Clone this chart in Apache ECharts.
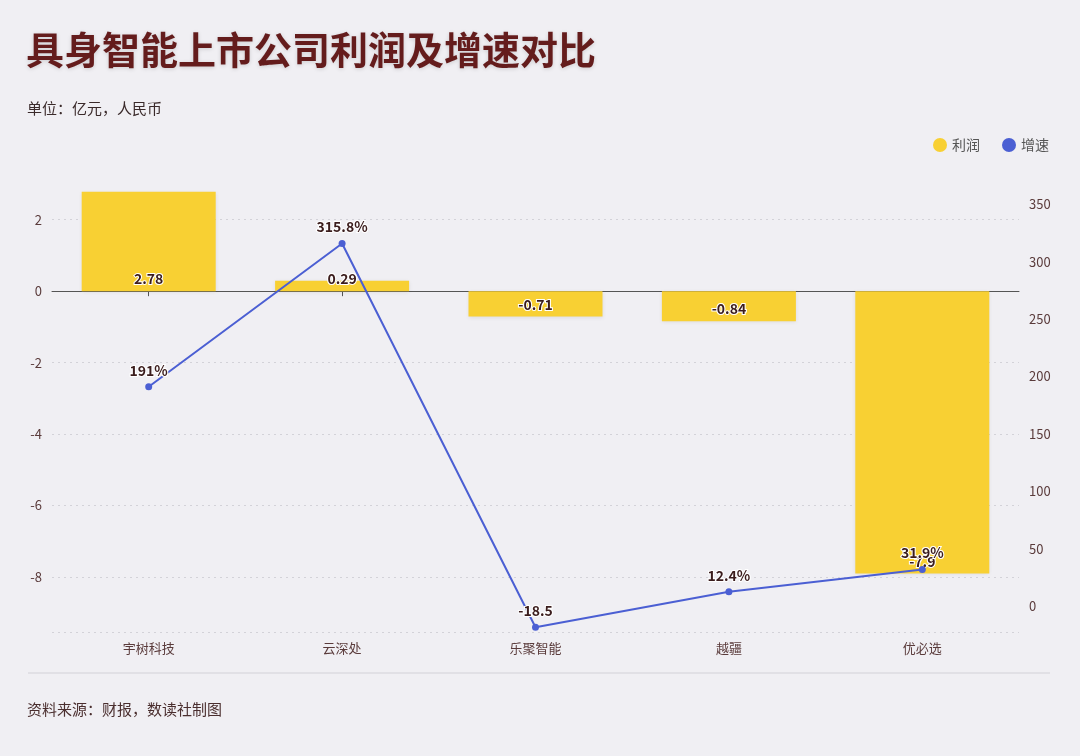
<!DOCTYPE html>
<html>
<head>
<meta charset="utf-8">
<style>
html,body{margin:0;padding:0;background:#f0eff3;}
#main{width:1080px;height:756px;}
</style>
<script src="https://cdn.jsdelivr.net/npm/echarts@6/dist/echarts.min.js"></script>
</head>
<body>
<div id="main"></div>
<script>
// 公司
var companies = ['宇树科技', '云深处', '乐聚智能', '越疆', '优必选'];
// 利润（亿元）
var profit = [2.78, 0.29, -0.71, -0.84, -7.9];
// 增速（%）
var growth = [191, 315.8, -18.5, 12.4, 31.9];

var fontCN = '"Noto Sans CJK SC", "Noto Sans", sans-serif';
var labelDark = '#3b1d1d';
var axisText = '#5a3b3b';

var chart = echarts.init(document.getElementById('main'));
chart.setOption({
  backgroundColor: '#f0eff3',
  textStyle: { fontFamily: fontCN },
  title: [{
    text: '具身智能上市公司利润及增速对比',
    left: 26, top: 31, padding: 0,
    textStyle: {
      fontSize: 38, fontWeight: 'bold', color: '#641c1c', fontFamily: fontCN,
      textShadowColor: 'rgba(0,0,0,0.15)', textShadowBlur: 4, textShadowOffsetY: 1
    }
  }, {
    text: '单位：亿元，人民币',
    left: 27, top: 101, padding: 0,
    textStyle: { fontSize: 15, fontWeight: 'normal', color: '#3a2a2a', fontFamily: fontCN }
  }, {
    text: '资料来源：财报，数读社制图',
    left: 27, top: 702, padding: 0,
    textStyle: { fontSize: 15, fontWeight: 'normal', color: '#4a2e2e', fontFamily: fontCN }
  }],
  legend: {
    data: ['利润', '增速'],
    right: 26, top: 133,
    icon: 'circle',
    itemWidth: 14, itemHeight: 14, itemGap: 22,
    textStyle: { fontSize: 14, color: '#555', fontFamily: fontCN }
  },
  graphic: [{
    type: 'line',
    shape: { x1: 28, y1: 673, x2: 1050, y2: 673 },
    style: { stroke: '#dcdbe0', lineWidth: 1.5 }
  }],
  grid: { left: 52, right: 61, top: 184, bottom: 124 },
  xAxis: [{
    type: 'category',
    data: companies,
    position: 'bottom',
    axisLine: { show: false, onZero: false },
    axisTick: { show: false },
    axisLabel: { color: axisText, fontSize: 13, margin: 10, fontFamily: fontCN }
  }, {
    type: 'category',
    data: companies,
    position: 'bottom',
    axisLine: { show: true, onZero: true, lineStyle: { color: '#555', width: 1 } },
    axisTick: { show: true, alignWithLabel: true, length: 5, lineStyle: { color: '#555' } },
    axisLabel: { show: false }
  }],
  yAxis: [{
    type: 'value',
    min: -9.54, max: 3, splitNumber: 6,
    axisLine: { show: false },
    axisTick: { show: false },
    axisLabel: { color: axisText, fontSize: 13, margin: 10, showMinLabel: false, showMaxLabel: false },
    splitLine: {
      show: true, showMaxLine: false,
      lineStyle: { color: '#d3d2d8', type: [2, 4], width: 1 }
    }
  }, {
    type: 'value',
    min: -22.6, max: 367.6, splitNumber: 8,
    position: 'right',
    axisLine: { show: false },
    axisTick: { show: false },
    splitLine: { show: false },
    axisLabel: { color: axisText, fontSize: 13, margin: 10, showMinLabel: false, showMaxLabel: false }
  }],
  series: [{
    name: '利润',
    type: 'bar',
    data: profit,
    xAxisIndex: 0,
    yAxisIndex: 0,
    barWidth: 134,
    itemStyle: { color: '#f8d033', shadowColor: 'rgba(0,0,0,0.08)', shadowBlur: 4, shadowOffsetY: 1 },
    label: {
      show: true,
      position: 'insideBottom',
      distance: 5,
      fontSize: 14,
      fontWeight: 'bold',
      color: labelDark,
      textBorderColor: '#fff',
      textBorderWidth: 2,
      fontFamily: fontCN
    },
    z: 2
  }, {
    name: '增速',
    type: 'line',
    data: growth,
    xAxisIndex: 0,
    yAxisIndex: 1,
    symbol: 'circle',
    symbolSize: 7,
    lineStyle: { color: '#4b5fd3', width: 2 },
    itemStyle: { color: '#4b5fd3' },
    label: {
      show: true,
      position: 'top',
      distance: 6,
      fontSize: 14,
      fontWeight: 'bold',
      color: labelDark,
      textBorderColor: '#fff',
      textBorderWidth: 2,
      fontFamily: fontCN,
      formatter: function (p) { return p.value < 0 ? String(p.value) : p.value + '%'; }
    },
    z: 5
  }]
});
</script>
</body>
</html>
